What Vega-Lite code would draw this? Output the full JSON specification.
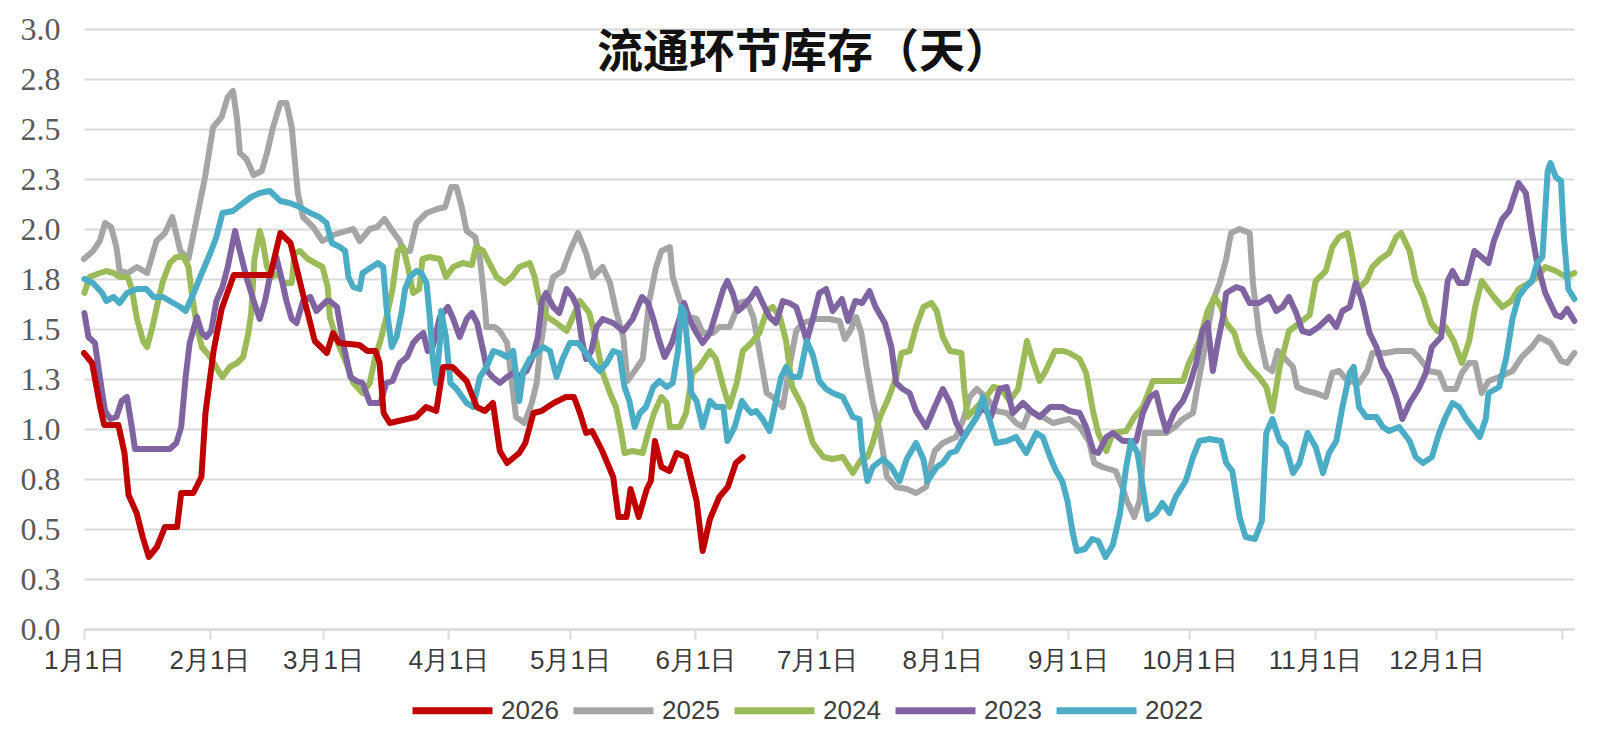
{
  "$schema": "https://vega.github.io/schema/vega-lite/v6.json",
  "width": 1490,
  "height": 600,
  "autosize": {"type": "none"},
  "padding": {"left": 84, "top": 29, "right": 42, "bottom": 105},
  "background": "#ffffff",
  "title": {
    "text": "流通环节库存（天）",
    "font": "Noto Sans CJK SC",
    "fontSize": 46,
    "fontWeight": "bold",
    "color": "#111111",
    "anchor": "middle",
    "frame": "group",
    "offset": -64,
    "dx": -25
  },
  "data": {
    "values": [
      {"year":"2025","day":0,"value":1.85},{"year":"2025","day":2.2,"value":1.89},{"year":"2025","day":3.9,"value":1.94},{"year":"2025","day":5.2,"value":2.03},{"year":"2025","day":6.7,"value":2.01},{"year":"2025","day":8.0,"value":1.91},{"year":"2025","day":8.8,"value":1.79},{"year":"2025","day":10.8,"value":1.78},{"year":"2025","day":13.1,"value":1.81},{"year":"2025","day":15.6,"value":1.78},{"year":"2025","day":17.9,"value":1.94},{"year":"2025","day":20.0,"value":1.98},{"year":"2025","day":21.8,"value":2.06},{"year":"2025","day":23.8,"value":1.89},{"year":"2025","day":25.8,"value":1.85},{"year":"2025","day":27.4,"value":2.01},{"year":"2025","day":29.9,"value":2.26},{"year":"2025","day":31.9,"value":2.51},{"year":"2025","day":34.0,"value":2.56},{"year":"2025","day":35.5,"value":2.66},{"year":"2025","day":36.8,"value":2.69},{"year":"2025","day":37.8,"value":2.55},{"year":"2025","day":38.5,"value":2.38},{"year":"2025","day":40.1,"value":2.35},{"year":"2025","day":41.9,"value":2.27},{"year":"2025","day":43.9,"value":2.29},{"year":"2025","day":45.2,"value":2.38},{"year":"2025","day":46.7,"value":2.51},{"year":"2025","day":48.5,"value":2.63},{"year":"2025","day":50.0,"value":2.63},{"year":"2025","day":51.3,"value":2.51},{"year":"2025","day":52.8,"value":2.18},{"year":"2025","day":54.1,"value":2.06},{"year":"2025","day":56.6,"value":2.01},{"year":"2025","day":58.9,"value":1.94},{"year":"2025","day":61.5,"value":1.97},{"year":"2025","day":64.8,"value":1.99},{"year":"2025","day":66.5,"value":2.0},{"year":"2025","day":68.1,"value":1.94},{"year":"2025","day":70.6,"value":2.0},{"year":"2025","day":72.4,"value":2.01},{"year":"2025","day":74.2,"value":2.05},{"year":"2025","day":76.2,"value":1.99},{"year":"2025","day":78.0,"value":1.94},{"year":"2025","day":78.8,"value":1.89},{"year":"2025","day":80.5,"value":1.89},{"year":"2025","day":82.1,"value":2.03},{"year":"2025","day":84.6,"value":2.08},{"year":"2025","day":87.2,"value":2.1},{"year":"2025","day":89.2,"value":2.11},{"year":"2025","day":90.7,"value":2.21},{"year":"2025","day":92.0,"value":2.21},{"year":"2025","day":93.3,"value":2.11},{"year":"2025","day":94.5,"value":1.99},{"year":"2025","day":96.6,"value":1.96},{"year":"2025","day":97.8,"value":1.85},{"year":"2025","day":98.9,"value":1.64},{"year":"2025","day":99.4,"value":1.51},{"year":"2025","day":101.4,"value":1.51},{"year":"2025","day":102.7,"value":1.49},{"year":"2025","day":104.5,"value":1.43},{"year":"2025","day":105.7,"value":1.23},{"year":"2025","day":106.7,"value":1.06},{"year":"2025","day":108.8,"value":1.03},{"year":"2025","day":110.6,"value":1.13},{"year":"2025","day":111.8,"value":1.23},{"year":"2025","day":112.6,"value":1.39},{"year":"2025","day":114.4,"value":1.64},{"year":"2025","day":115.9,"value":1.76},{"year":"2025","day":118.2,"value":1.79},{"year":"2025","day":120.0,"value":1.89},{"year":"2025","day":122.0,"value":1.98},{"year":"2025","day":124.0,"value":1.88},{"year":"2025","day":125.6,"value":1.76},{"year":"2025","day":128.1,"value":1.81},{"year":"2025","day":129.9,"value":1.73},{"year":"2025","day":131.4,"value":1.59},{"year":"2025","day":133.2,"value":1.46},{"year":"2025","day":134.2,"value":1.24},{"year":"2025","day":136.0,"value":1.29},{"year":"2025","day":138.0,"value":1.35},{"year":"2025","day":139.6,"value":1.64},{"year":"2025","day":141.3,"value":1.81},{"year":"2025","day":142.6,"value":1.89},{"year":"2025","day":144.7,"value":1.91},{"year":"2025","day":145.4,"value":1.76},{"year":"2025","day":147.2,"value":1.64},{"year":"2025","day":149.5,"value":1.56},{"year":"2025","day":151.3,"value":1.55},{"year":"2025","day":152.8,"value":1.48},{"year":"2025","day":155.3,"value":1.48},{"year":"2025","day":156.9,"value":1.51},{"year":"2025","day":159.4,"value":1.51},{"year":"2025","day":161.9,"value":1.63},{"year":"2025","day":163.7,"value":1.64},{"year":"2025","day":165.3,"value":1.56},{"year":"2025","day":166.8,"value":1.39},{"year":"2025","day":168.6,"value":1.18},{"year":"2025","day":170.1,"value":1.16},{"year":"2025","day":172.6,"value":1.11},{"year":"2025","day":174.2,"value":1.31},{"year":"2025","day":175.9,"value":1.49},{"year":"2025","day":177.5,"value":1.53},{"year":"2025","day":180.8,"value":1.55},{"year":"2025","day":184.1,"value":1.55},{"year":"2025","day":186.6,"value":1.54},{"year":"2025","day":187.9,"value":1.45},{"year":"2025","day":189.2,"value":1.49},{"year":"2025","day":190.7,"value":1.56},{"year":"2025","day":192.0,"value":1.48},{"year":"2025","day":193.3,"value":1.31},{"year":"2025","day":194.8,"value":1.14},{"year":"2025","day":196.6,"value":0.98},{"year":"2025","day":198.3,"value":0.76},{"year":"2025","day":200.6,"value":0.71},{"year":"2025","day":203.2,"value":0.7},{"year":"2025","day":205.5,"value":0.68},{"year":"2025","day":208.0,"value":0.71},{"year":"2025","day":209.3,"value":0.83},{"year":"2025","day":210.1,"value":0.89},{"year":"2025","day":212.1,"value":0.93},{"year":"2025","day":215.4,"value":0.96},{"year":"2025","day":217.4,"value":1.06},{"year":"2025","day":218.7,"value":1.16},{"year":"2025","day":220.5,"value":1.2},{"year":"2025","day":222.8,"value":1.16},{"year":"2025","day":225.3,"value":1.09},{"year":"2025","day":227.9,"value":1.08},{"year":"2025","day":230.2,"value":1.03},{"year":"2025","day":231.9,"value":1.01},{"year":"2025","day":233.5,"value":1.09},{"year":"2025","day":236.8,"value":1.06},{"year":"2025","day":239.3,"value":1.03},{"year":"2025","day":243.4,"value":1.05},{"year":"2025","day":245.9,"value":1.01},{"year":"2025","day":248.2,"value":0.94},{"year":"2025","day":249.5,"value":0.83},{"year":"2025","day":251.5,"value":0.81},{"year":"2025","day":254.8,"value":0.79},{"year":"2025","day":256.6,"value":0.7},{"year":"2025","day":257.6,"value":0.64},{"year":"2025","day":259.4,"value":0.56},{"year":"2025","day":260.7,"value":0.64},{"year":"2025","day":262.0,"value":0.98},{"year":"2025","day":267.3,"value":0.98},{"year":"2025","day":269.4,"value":1.01},{"year":"2025","day":271.4,"value":1.05},{"year":"2025","day":273.9,"value":1.08},{"year":"2025","day":274.9,"value":1.2},{"year":"2025","day":276.7,"value":1.39},{"year":"2025","day":278.8,"value":1.64},{"year":"2025","day":280.5,"value":1.73},{"year":"2025","day":282.1,"value":1.85},{"year":"2025","day":283.3,"value":1.98},{"year":"2025","day":285.4,"value":2.0},{"year":"2025","day":287.9,"value":1.98},{"year":"2025","day":288.7,"value":1.73},{"year":"2025","day":290.2,"value":1.48},{"year":"2025","day":292.0,"value":1.31},{"year":"2025","day":293.5,"value":1.29},{"year":"2025","day":294.8,"value":1.39},{"year":"2025","day":296.3,"value":1.36},{"year":"2025","day":298.6,"value":1.31},{"year":"2025","day":299.6,"value":1.21},{"year":"2025","day":301.9,"value":1.19},{"year":"2025","day":304.2,"value":1.18},{"year":"2025","day":306.7,"value":1.16},{"year":"2025","day":308.3,"value":1.28},{"year":"2025","day":310.0,"value":1.29},{"year":"2025","day":312.1,"value":1.24},{"year":"2025","day":314.9,"value":1.23},{"year":"2025","day":316.9,"value":1.29},{"year":"2025","day":318.2,"value":1.38},{"year":"2025","day":321.5,"value":1.38},{"year":"2025","day":324.1,"value":1.39},{"year":"2025","day":328.1,"value":1.39},{"year":"2025","day":329.6,"value":1.36},{"year":"2025","day":332.2,"value":1.29},{"year":"2025","day":334.7,"value":1.28},{"year":"2025","day":336.3,"value":1.2},{"year":"2025","day":338.8,"value":1.2},{"year":"2025","day":340.3,"value":1.28},{"year":"2025","day":342.1,"value":1.33},{"year":"2025","day":343.6,"value":1.33},{"year":"2025","day":345.2,"value":1.18},{"year":"2025","day":346.9,"value":1.24},{"year":"2025","day":349.5,"value":1.26},{"year":"2025","day":352.8,"value":1.29},{"year":"2025","day":355.1,"value":1.36},{"year":"2025","day":357.6,"value":1.41},{"year":"2025","day":359.4,"value":1.46},{"year":"2025","day":362.2,"value":1.43},{"year":"2025","day":364.8,"value":1.34},{"year":"2025","day":366.3,"value":1.33},{"year":"2025","day":368.1,"value":1.38},

      {"year":"2024","day":0.1,"value":1.68},{"year":"2024","day":1.4,"value":1.76},{"year":"2024","day":3.9,"value":1.78},{"year":"2024","day":5.5,"value":1.79},{"year":"2024","day":7.3,"value":1.78},{"year":"2024","day":8.8,"value":1.76},{"year":"2024","day":10.8,"value":1.76},{"year":"2024","day":11.8,"value":1.7},{"year":"2024","day":13.1,"value":1.55},{"year":"2024","day":14.6,"value":1.44},{"year":"2024","day":15.6,"value":1.41},{"year":"2024","day":16.9,"value":1.51},{"year":"2024","day":18.2,"value":1.63},{"year":"2024","day":19.5,"value":1.74},{"year":"2024","day":21.2,"value":1.83},{"year":"2024","day":22.8,"value":1.86},{"year":"2024","day":24.6,"value":1.86},{"year":"2024","day":25.8,"value":1.81},{"year":"2024","day":26.6,"value":1.68},{"year":"2024","day":27.9,"value":1.51},{"year":"2024","day":29.1,"value":1.41},{"year":"2024","day":31.2,"value":1.36},{"year":"2024","day":33.2,"value":1.29},{"year":"2024","day":34.2,"value":1.26},{"year":"2024","day":36.0,"value":1.31},{"year":"2024","day":37.8,"value":1.33},{"year":"2024","day":39.3,"value":1.36},{"year":"2024","day":40.6,"value":1.48},{"year":"2024","day":41.3,"value":1.58},{"year":"2024","day":42.1,"value":1.85},{"year":"2024","day":43.4,"value":1.99},{"year":"2024","day":44.1,"value":1.94},{"year":"2024","day":45.2,"value":1.81},{"year":"2024","day":46.4,"value":1.76},{"year":"2024","day":48.0,"value":1.78},{"year":"2024","day":49.2,"value":1.73},{"year":"2024","day":51.3,"value":1.73},{"year":"2024","day":52.0,"value":1.88},{"year":"2024","day":53.3,"value":1.89},{"year":"2024","day":55.3,"value":1.85},{"year":"2024","day":57.1,"value":1.83},{"year":"2024","day":58.9,"value":1.81},{"year":"2024","day":60.2,"value":1.71},{"year":"2024","day":60.7,"value":1.56},{"year":"2024","day":62.5,"value":1.44},{"year":"2024","day":64.8,"value":1.33},{"year":"2024","day":66.5,"value":1.23},{"year":"2024","day":68.8,"value":1.18},{"year":"2024","day":70.6,"value":1.23},{"year":"2024","day":71.9,"value":1.36},{"year":"2024","day":73.2,"value":1.44},{"year":"2024","day":74.7,"value":1.56},{"year":"2024","day":76.2,"value":1.7},{"year":"2024","day":77.5,"value":1.89},{"year":"2024","day":78.8,"value":1.91},{"year":"2024","day":80.0,"value":1.81},{"year":"2024","day":81.3,"value":1.68},{"year":"2024","day":82.8,"value":1.7},{"year":"2024","day":83.6,"value":1.85},{"year":"2024","day":85.4,"value":1.86},{"year":"2024","day":87.9,"value":1.85},{"year":"2024","day":89.4,"value":1.76},{"year":"2024","day":91.2,"value":1.81},{"year":"2024","day":93.5,"value":1.83},{"year":"2024","day":95.8,"value":1.82},{"year":"2024","day":96.8,"value":1.91},{"year":"2024","day":98.6,"value":1.89},{"year":"2024","day":100.1,"value":1.83},{"year":"2024","day":101.9,"value":1.76},{"year":"2024","day":103.9,"value":1.73},{"year":"2024","day":105.7,"value":1.76},{"year":"2024","day":107.5,"value":1.81},{"year":"2024","day":110.1,"value":1.83},{"year":"2024","day":111.3,"value":1.76},{"year":"2024","day":112.6,"value":1.63},{"year":"2024","day":114.4,"value":1.56},{"year":"2024","day":116.7,"value":1.53},{"year":"2024","day":119.2,"value":1.49},{"year":"2024","day":122.5,"value":1.64},{"year":"2024","day":124.8,"value":1.58},{"year":"2024","day":126.6,"value":1.43},{"year":"2024","day":128.1,"value":1.28},{"year":"2024","day":129.9,"value":1.18},{"year":"2024","day":131.4,"value":1.11},{"year":"2024","day":132.7,"value":0.98},{"year":"2024","day":133.5,"value":0.88},{"year":"2024","day":135.5,"value":0.89},{"year":"2024","day":138.0,"value":0.88},{"year":"2024","day":139.3,"value":0.98},{"year":"2024","day":140.8,"value":1.08},{"year":"2024","day":142.6,"value":1.16},{"year":"2024","day":143.9,"value":1.13},{"year":"2024","day":144.7,"value":1.01},{"year":"2024","day":147.2,"value":1.01},{"year":"2024","day":148.7,"value":1.08},{"year":"2024","day":150.3,"value":1.28},{"year":"2024","day":152.0,"value":1.31},{"year":"2024","day":154.6,"value":1.39},{"year":"2024","day":156.1,"value":1.35},{"year":"2024","day":157.9,"value":1.21},{"year":"2024","day":159.4,"value":1.11},{"year":"2024","day":161.2,"value":1.23},{"year":"2024","day":162.7,"value":1.39},{"year":"2024","day":164.8,"value":1.43},{"year":"2024","day":166.8,"value":1.48},{"year":"2024","day":168.6,"value":1.59},{"year":"2024","day":170.1,"value":1.61},{"year":"2024","day":171.9,"value":1.56},{"year":"2024","day":173.4,"value":1.44},{"year":"2024","day":174.9,"value":1.21},{"year":"2024","day":177.5,"value":1.11},{"year":"2024","day":180.0,"value":0.93},{"year":"2024","day":182.6,"value":0.86},{"year":"2024","day":184.9,"value":0.85},{"year":"2024","day":187.4,"value":0.86},{"year":"2024","day":189.9,"value":0.78},{"year":"2024","day":192.0,"value":0.85},{"year":"2024","day":193.5,"value":0.86},{"year":"2024","day":194.8,"value":0.93},{"year":"2024","day":196.6,"value":1.06},{"year":"2024","day":198.8,"value":1.16},{"year":"2024","day":200.6,"value":1.26},{"year":"2024","day":201.9,"value":1.38},{"year":"2024","day":203.9,"value":1.39},{"year":"2024","day":205.5,"value":1.51},{"year":"2024","day":207.3,"value":1.61},{"year":"2024","day":209.3,"value":1.63},{"year":"2024","day":210.6,"value":1.59},{"year":"2024","day":212.1,"value":1.46},{"year":"2024","day":213.9,"value":1.39},{"year":"2024","day":216.7,"value":1.38},{"year":"2024","day":217.4,"value":1.2},{"year":"2024","day":218.2,"value":1.06},{"year":"2024","day":220.5,"value":1.11},{"year":"2024","day":222.8,"value":1.16},{"year":"2024","day":224.6,"value":1.21},{"year":"2024","day":226.6,"value":1.2},{"year":"2024","day":228.6,"value":1.14},{"year":"2024","day":230.7,"value":1.2},{"year":"2024","day":231.9,"value":1.33},{"year":"2024","day":232.9,"value":1.44},{"year":"2024","day":234.2,"value":1.35},{"year":"2024","day":236.0,"value":1.24},{"year":"2024","day":237.5,"value":1.29},{"year":"2024","day":239.8,"value":1.39},{"year":"2024","day":241.8,"value":1.39},{"year":"2024","day":243.4,"value":1.38},{"year":"2024","day":245.9,"value":1.35},{"year":"2024","day":247.5,"value":1.28},{"year":"2024","day":249.3,"value":1.08},{"year":"2024","day":250.5,"value":0.98},{"year":"2024","day":252.5,"value":0.89},{"year":"2024","day":254.1,"value":0.98},{"year":"2024","day":257.4,"value":0.99},{"year":"2024","day":259.4,"value":1.06},{"year":"2024","day":261.5,"value":1.11},{"year":"2024","day":264.0,"value":1.24},{"year":"2024","day":271.4,"value":1.24},{"year":"2024","day":272.9,"value":1.33},{"year":"2024","day":275.5,"value":1.44},{"year":"2024","day":277.5,"value":1.59},{"year":"2024","day":279.3,"value":1.66},{"year":"2024","day":280.8,"value":1.61},{"year":"2024","day":282.1,"value":1.53},{"year":"2024","day":284.1,"value":1.48},{"year":"2024","day":285.6,"value":1.38},{"year":"2024","day":287.9,"value":1.31},{"year":"2024","day":290.2,"value":1.26},{"year":"2024","day":292.0,"value":1.21},{"year":"2024","day":293.5,"value":1.09},{"year":"2024","day":295.3,"value":1.31},{"year":"2024","day":297.6,"value":1.49},{"year":"2024","day":300.2,"value":1.53},{"year":"2024","day":302.7,"value":1.57},{"year":"2024","day":304.2,"value":1.74},{"year":"2024","day":306.7,"value":1.79},{"year":"2024","day":308.3,"value":1.91},{"year":"2024","day":310.0,"value":1.96},{"year":"2024","day":312.1,"value":1.98},{"year":"2024","day":313.3,"value":1.86},{"year":"2024","day":314.6,"value":1.7},{"year":"2024","day":316.7,"value":1.74},{"year":"2024","day":318.2,"value":1.81},{"year":"2024","day":320.2,"value":1.85},{"year":"2024","day":322.3,"value":1.88},{"year":"2024","day":324.1,"value":1.96},{"year":"2024","day":325.3,"value":1.98},{"year":"2024","day":327.4,"value":1.89},{"year":"2024","day":328.9,"value":1.74},{"year":"2024","day":330.7,"value":1.66},{"year":"2024","day":332.7,"value":1.53},{"year":"2024","day":334.3,"value":1.49},{"year":"2024","day":336.3,"value":1.51},{"year":"2024","day":338.3,"value":1.44},{"year":"2024","day":340.3,"value":1.33},{"year":"2024","day":342.1,"value":1.44},{"year":"2024","day":343.6,"value":1.61},{"year":"2024","day":345.2,"value":1.74},{"year":"2024","day":346.7,"value":1.7},{"year":"2024","day":348.2,"value":1.66},{"year":"2024","day":350.3,"value":1.61},{"year":"2024","day":352.5,"value":1.64},{"year":"2024","day":354.3,"value":1.7},{"year":"2024","day":356.9,"value":1.73},{"year":"2024","day":358.9,"value":1.76},{"year":"2024","day":360.9,"value":1.81},{"year":"2024","day":363.5,"value":1.79},{"year":"2024","day":366.0,"value":1.76},{"year":"2024","day":368.1,"value":1.78},

      {"year":"2023","day":0.1,"value":1.58},{"year":"2023","day":1.1,"value":1.46},{"year":"2023","day":2.7,"value":1.43},{"year":"2023","day":3.9,"value":1.26},{"year":"2023","day":5.2,"value":1.09},{"year":"2023","day":6.5,"value":1.05},{"year":"2023","day":8.0,"value":1.06},{"year":"2023","day":9.3,"value":1.14},{"year":"2023","day":10.6,"value":1.16},{"year":"2023","day":11.8,"value":1.01},{"year":"2023","day":12.6,"value":0.9},{"year":"2023","day":16.4,"value":0.9},{"year":"2023","day":21.2,"value":0.9},{"year":"2023","day":22.8,"value":0.93},{"year":"2023","day":24.0,"value":1.01},{"year":"2023","day":25.1,"value":1.26},{"year":"2023","day":26.1,"value":1.43},{"year":"2023","day":27.9,"value":1.56},{"year":"2023","day":29.1,"value":1.48},{"year":"2023","day":30.2,"value":1.46},{"year":"2023","day":31.4,"value":1.49},{"year":"2023","day":32.7,"value":1.64},{"year":"2023","day":34.2,"value":1.71},{"year":"2023","day":35.5,"value":1.81},{"year":"2023","day":37.3,"value":1.99},{"year":"2023","day":38.5,"value":1.89},{"year":"2023","day":40.1,"value":1.76},{"year":"2023","day":41.9,"value":1.64},{"year":"2023","day":43.4,"value":1.55},{"year":"2023","day":44.7,"value":1.64},{"year":"2023","day":45.9,"value":1.76},{"year":"2023","day":47.5,"value":1.86},{"year":"2023","day":48.7,"value":1.76},{"year":"2023","day":50.0,"value":1.64},{"year":"2023","day":51.3,"value":1.55},{"year":"2023","day":52.5,"value":1.53},{"year":"2023","day":54.1,"value":1.64},{"year":"2023","day":55.9,"value":1.66},{"year":"2023","day":57.4,"value":1.59},{"year":"2023","day":59.9,"value":1.64},{"year":"2023","day":60.7,"value":1.64},{"year":"2023","day":62.5,"value":1.61},{"year":"2023","day":64.0,"value":1.43},{"year":"2023","day":65.8,"value":1.26},{"year":"2023","day":67.3,"value":1.24},{"year":"2023","day":68.8,"value":1.23},{"year":"2023","day":70.6,"value":1.13},{"year":"2023","day":73.2,"value":1.13},{"year":"2023","day":74.7,"value":1.23},{"year":"2023","day":76.2,"value":1.24},{"year":"2023","day":78.0,"value":1.33},{"year":"2023","day":79.8,"value":1.36},{"year":"2023","day":81.3,"value":1.43},{"year":"2023","day":82.6,"value":1.46},{"year":"2023","day":83.8,"value":1.48},{"year":"2023","day":84.9,"value":1.39},{"year":"2023","day":86.1,"value":1.41},{"year":"2023","day":87.9,"value":1.56},{"year":"2023","day":89.9,"value":1.61},{"year":"2023","day":91.2,"value":1.55},{"year":"2023","day":92.8,"value":1.46},{"year":"2023","day":94.5,"value":1.55},{"year":"2023","day":95.8,"value":1.58},{"year":"2023","day":97.1,"value":1.53},{"year":"2023","day":98.6,"value":1.39},{"year":"2023","day":99.6,"value":1.29},{"year":"2023","day":100.9,"value":1.26},{"year":"2023","day":102.7,"value":1.23},{"year":"2023","day":104.5,"value":1.26},{"year":"2023","day":106.0,"value":1.28},{"year":"2023","day":107.0,"value":1.26},{"year":"2023","day":109.3,"value":1.29},{"year":"2023","day":110.8,"value":1.36},{"year":"2023","day":112.1,"value":1.46},{"year":"2023","day":113.1,"value":1.64},{"year":"2023","day":114.1,"value":1.68},{"year":"2023","day":115.9,"value":1.61},{"year":"2023","day":117.4,"value":1.58},{"year":"2023","day":119.2,"value":1.7},{"year":"2023","day":120.7,"value":1.66},{"year":"2023","day":121.8,"value":1.61},{"year":"2023","day":123.0,"value":1.44},{"year":"2023","day":124.0,"value":1.35},{"year":"2023","day":125.3,"value":1.39},{"year":"2023","day":126.6,"value":1.51},{"year":"2023","day":128.1,"value":1.55},{"year":"2023","day":130.7,"value":1.53},{"year":"2023","day":133.2,"value":1.49},{"year":"2023","day":135.5,"value":1.55},{"year":"2023","day":137.8,"value":1.66},{"year":"2023","day":139.3,"value":1.63},{"year":"2023","day":140.6,"value":1.55},{"year":"2023","day":142.1,"value":1.44},{"year":"2023","day":143.4,"value":1.36},{"year":"2023","day":145.2,"value":1.43},{"year":"2023","day":147.2,"value":1.56},{"year":"2023","day":148.2,"value":1.63},{"year":"2023","day":149.5,"value":1.55},{"year":"2023","day":151.3,"value":1.48},{"year":"2023","day":152.8,"value":1.43},{"year":"2023","day":154.6,"value":1.48},{"year":"2023","day":156.1,"value":1.58},{"year":"2023","day":157.9,"value":1.7},{"year":"2023","day":158.9,"value":1.74},{"year":"2023","day":160.2,"value":1.68},{"year":"2023","day":161.5,"value":1.59},{"year":"2023","day":162.7,"value":1.61},{"year":"2023","day":164.8,"value":1.66},{"year":"2023","day":166.0,"value":1.7},{"year":"2023","day":167.6,"value":1.63},{"year":"2023","day":169.3,"value":1.56},{"year":"2023","day":170.9,"value":1.53},{"year":"2023","day":172.6,"value":1.64},{"year":"2023","day":174.2,"value":1.63},{"year":"2023","day":175.9,"value":1.61},{"year":"2023","day":177.5,"value":1.51},{"year":"2023","day":178.5,"value":1.44},{"year":"2023","day":180.0,"value":1.55},{"year":"2023","day":181.6,"value":1.68},{"year":"2023","day":183.3,"value":1.7},{"year":"2023","day":184.9,"value":1.59},{"year":"2023","day":187.2,"value":1.65},{"year":"2023","day":188.7,"value":1.54},{"year":"2023","day":190.5,"value":1.64},{"year":"2023","day":192.2,"value":1.63},{"year":"2023","day":194.0,"value":1.69},{"year":"2023","day":195.5,"value":1.61},{"year":"2023","day":197.8,"value":1.53},{"year":"2023","day":199.4,"value":1.41},{"year":"2023","day":200.6,"value":1.23},{"year":"2023","day":202.2,"value":1.2},{"year":"2023","day":203.9,"value":1.18},{"year":"2023","day":205.5,"value":1.09},{"year":"2023","day":208.0,"value":1.01},{"year":"2023","day":210.1,"value":1.11},{"year":"2023","day":212.1,"value":1.2},{"year":"2023","day":213.9,"value":1.13},{"year":"2023","day":215.4,"value":1.03},{"year":"2023","day":217.4,"value":0.96},{"year":"2023","day":219.5,"value":1.03},{"year":"2023","day":222.0,"value":1.11},{"year":"2023","day":224.0,"value":1.06},{"year":"2023","day":226.1,"value":1.2},{"year":"2023","day":227.9,"value":1.21},{"year":"2023","day":229.4,"value":1.08},{"year":"2023","day":231.9,"value":1.13},{"year":"2023","day":233.9,"value":1.09},{"year":"2023","day":236.0,"value":1.06},{"year":"2023","day":238.6,"value":1.11},{"year":"2023","day":241.6,"value":1.11},{"year":"2023","day":243.4,"value":1.09},{"year":"2023","day":245.9,"value":1.08},{"year":"2023","day":247.5,"value":1.01},{"year":"2023","day":249.3,"value":0.89},{"year":"2023","day":250.5,"value":0.88},{"year":"2023","day":252.5,"value":0.96},{"year":"2023","day":254.1,"value":0.98},{"year":"2023","day":256.6,"value":0.94},{"year":"2023","day":259.9,"value":0.94},{"year":"2023","day":261.5,"value":1.08},{"year":"2023","day":263.3,"value":1.16},{"year":"2023","day":264.8,"value":1.18},{"year":"2023","day":266.0,"value":1.08},{"year":"2023","day":267.3,"value":0.99},{"year":"2023","day":269.4,"value":1.09},{"year":"2023","day":271.4,"value":1.14},{"year":"2023","day":272.9,"value":1.21},{"year":"2023","day":274.7,"value":1.33},{"year":"2023","day":276.2,"value":1.49},{"year":"2023","day":277.5,"value":1.53},{"year":"2023","day":278.8,"value":1.29},{"year":"2023","day":280.0,"value":1.43},{"year":"2023","day":281.3,"value":1.56},{"year":"2023","day":282.1,"value":1.68},{"year":"2023","day":284.6,"value":1.71},{"year":"2023","day":286.1,"value":1.7},{"year":"2023","day":287.9,"value":1.63},{"year":"2023","day":290.2,"value":1.63},{"year":"2023","day":292.7,"value":1.66},{"year":"2023","day":294.5,"value":1.59},{"year":"2023","day":296.0,"value":1.61},{"year":"2023","day":297.6,"value":1.66},{"year":"2023","day":299.4,"value":1.58},{"year":"2023","day":300.9,"value":1.49},{"year":"2023","day":302.7,"value":1.48},{"year":"2023","day":304.9,"value":1.51},{"year":"2023","day":307.5,"value":1.56},{"year":"2023","day":309.3,"value":1.51},{"year":"2023","day":310.8,"value":1.59},{"year":"2023","day":312.6,"value":1.61},{"year":"2023","day":314.1,"value":1.73},{"year":"2023","day":315.7,"value":1.64},{"year":"2023","day":317.5,"value":1.48},{"year":"2023","day":319.2,"value":1.41},{"year":"2023","day":320.8,"value":1.31},{"year":"2023","day":322.3,"value":1.26},{"year":"2023","day":324.1,"value":1.16},{"year":"2023","day":325.6,"value":1.05},{"year":"2023","day":327.4,"value":1.13},{"year":"2023","day":329.6,"value":1.2},{"year":"2023","day":331.4,"value":1.28},{"year":"2023","day":332.9,"value":1.41},{"year":"2023","day":335.2,"value":1.46},{"year":"2023","day":336.8,"value":1.74},{"year":"2023","day":338.0,"value":1.79},{"year":"2023","day":339.6,"value":1.73},{"year":"2023","day":341.4,"value":1.73},{"year":"2023","day":343.4,"value":1.89},{"year":"2023","day":345.2,"value":1.86},{"year":"2023","day":346.9,"value":1.83},{"year":"2023","day":348.2,"value":1.94},{"year":"2023","day":350.3,"value":2.05},{"year":"2023","day":352.0,"value":2.09},{"year":"2023","day":354.3,"value":2.23},{"year":"2023","day":356.1,"value":2.18},{"year":"2023","day":357.6,"value":1.98},{"year":"2023","day":358.9,"value":1.83},{"year":"2023","day":360.9,"value":1.68},{"year":"2023","day":363.5,"value":1.57},{"year":"2023","day":364.8,"value":1.56},{"year":"2023","day":366.3,"value":1.6},{"year":"2023","day":368.1,"value":1.54},

      {"year":"2022","day":0.1,"value":1.75},{"year":"2022","day":2.2,"value":1.73},{"year":"2022","day":4.5,"value":1.68},{"year":"2022","day":5.5,"value":1.64},{"year":"2022","day":7.3,"value":1.66},{"year":"2022","day":8.8,"value":1.63},{"year":"2022","day":10.6,"value":1.68},{"year":"2022","day":13.1,"value":1.7},{"year":"2022","day":15.4,"value":1.7},{"year":"2022","day":17.2,"value":1.66},{"year":"2022","day":19.5,"value":1.66},{"year":"2022","day":21.2,"value":1.64},{"year":"2022","day":23.8,"value":1.61},{"year":"2022","day":25.1,"value":1.59},{"year":"2022","day":27.1,"value":1.68},{"year":"2022","day":29.1,"value":1.78},{"year":"2022","day":31.2,"value":1.88},{"year":"2022","day":32.7,"value":1.96},{"year":"2022","day":34.2,"value":2.08},{"year":"2022","day":36.8,"value":2.09},{"year":"2022","day":39.3,"value":2.13},{"year":"2022","day":41.3,"value":2.16},{"year":"2022","day":43.4,"value":2.18},{"year":"2022","day":45.9,"value":2.19},{"year":"2022","day":48.5,"value":2.14},{"year":"2022","day":50.8,"value":2.13},{"year":"2022","day":53.3,"value":2.11},{"year":"2022","day":55.9,"value":2.08},{"year":"2022","day":58.1,"value":2.06},{"year":"2022","day":59.9,"value":2.03},{"year":"2022","day":61.2,"value":1.93},{"year":"2022","day":63.2,"value":1.91},{"year":"2022","day":64.5,"value":1.89},{"year":"2022","day":65.3,"value":1.76},{"year":"2022","day":66.5,"value":1.71},{"year":"2022","day":68.1,"value":1.7},{"year":"2022","day":68.8,"value":1.78},{"year":"2022","day":71.1,"value":1.81},{"year":"2022","day":72.6,"value":1.83},{"year":"2022","day":73.9,"value":1.81},{"year":"2022","day":74.7,"value":1.61},{"year":"2022","day":76.0,"value":1.41},{"year":"2022","day":77.2,"value":1.46},{"year":"2022","day":78.5,"value":1.59},{"year":"2022","day":79.3,"value":1.7},{"year":"2022","day":80.5,"value":1.76},{"year":"2022","day":82.1,"value":1.79},{"year":"2022","day":83.3,"value":1.78},{"year":"2022","day":84.6,"value":1.73},{"year":"2022","day":85.4,"value":1.56},{"year":"2022","day":86.1,"value":1.36},{"year":"2022","day":86.9,"value":1.23},{"year":"2022","day":87.9,"value":1.43},{"year":"2022","day":88.2,"value":1.59},{"year":"2022","day":89.4,"value":1.46},{"year":"2022","day":90.5,"value":1.23},{"year":"2022","day":92.0,"value":1.2},{"year":"2022","day":94.5,"value":1.13},{"year":"2022","day":96.1,"value":1.11},{"year":"2022","day":97.8,"value":1.26},{"year":"2022","day":99.4,"value":1.31},{"year":"2022","day":101.1,"value":1.39},{"year":"2022","day":102.7,"value":1.38},{"year":"2022","day":104.5,"value":1.36},{"year":"2022","day":106.0,"value":1.39},{"year":"2022","day":107.5,"value":1.14},{"year":"2022","day":108.5,"value":1.29},{"year":"2022","day":110.1,"value":1.35},{"year":"2022","day":111.8,"value":1.38},{"year":"2022","day":113.4,"value":1.41},{"year":"2022","day":115.1,"value":1.39},{"year":"2022","day":116.7,"value":1.26},{"year":"2022","day":118.2,"value":1.35},{"year":"2022","day":120.0,"value":1.43},{"year":"2022","day":122.0,"value":1.43},{"year":"2022","day":124.0,"value":1.38},{"year":"2022","day":125.6,"value":1.33},{"year":"2022","day":127.4,"value":1.29},{"year":"2022","day":129.1,"value":1.33},{"year":"2022","day":130.7,"value":1.39},{"year":"2022","day":132.2,"value":1.38},{"year":"2022","day":133.5,"value":1.21},{"year":"2022","day":134.7,"value":1.14},{"year":"2022","day":136.0,"value":1.01},{"year":"2022","day":137.3,"value":1.08},{"year":"2022","day":138.8,"value":1.11},{"year":"2022","day":140.6,"value":1.21},{"year":"2022","day":142.1,"value":1.24},{"year":"2022","day":143.9,"value":1.21},{"year":"2022","day":145.4,"value":1.23},{"year":"2022","day":146.7,"value":1.39},{"year":"2022","day":147.5,"value":1.61},{"year":"2022","day":148.2,"value":1.59},{"year":"2022","day":149.2,"value":1.39},{"year":"2022","day":150.0,"value":1.18},{"year":"2022","day":151.3,"value":1.14},{"year":"2022","day":152.8,"value":1.01},{"year":"2022","day":154.6,"value":1.14},{"year":"2022","day":156.1,"value":1.11},{"year":"2022","day":157.9,"value":1.11},{"year":"2022","day":158.9,"value":0.94},{"year":"2022","day":160.7,"value":1.01},{"year":"2022","day":162.5,"value":1.14},{"year":"2022","day":163.5,"value":1.11},{"year":"2022","day":164.8,"value":1.08},{"year":"2022","day":166.0,"value":1.09},{"year":"2022","day":167.6,"value":1.05},{"year":"2022","day":169.3,"value":0.99},{"year":"2022","day":170.9,"value":1.14},{"year":"2022","day":172.2,"value":1.26},{"year":"2022","day":173.4,"value":1.31},{"year":"2022","day":174.9,"value":1.26},{"year":"2022","day":176.7,"value":1.26},{"year":"2022","day":178.5,"value":1.44},{"year":"2022","day":180.0,"value":1.37},{"year":"2022","day":181.6,"value":1.24},{"year":"2022","day":183.3,"value":1.2},{"year":"2022","day":184.9,"value":1.18},{"year":"2022","day":187.4,"value":1.16},{"year":"2022","day":189.9,"value":1.06},{"year":"2022","day":191.5,"value":1.05},{"year":"2022","day":192.2,"value":0.89},{"year":"2022","day":193.5,"value":0.74},{"year":"2022","day":194.8,"value":0.81},{"year":"2022","day":197.3,"value":0.85},{"year":"2022","day":199.4,"value":0.81},{"year":"2022","day":201.4,"value":0.74},{"year":"2022","day":203.2,"value":0.85},{"year":"2022","day":205.5,"value":0.93},{"year":"2022","day":207.3,"value":0.85},{"year":"2022","day":208.3,"value":0.74},{"year":"2022","day":210.6,"value":0.81},{"year":"2022","day":212.1,"value":0.83},{"year":"2022","day":213.9,"value":0.88},{"year":"2022","day":215.4,"value":0.89},{"year":"2022","day":217.9,"value":0.98},{"year":"2022","day":220.5,"value":1.06},{"year":"2022","day":222.0,"value":1.16},{"year":"2022","day":223.6,"value":1.05},{"year":"2022","day":225.3,"value":0.93},{"year":"2022","day":227.9,"value":0.94},{"year":"2022","day":230.2,"value":0.96},{"year":"2022","day":232.7,"value":0.88},{"year":"2022","day":235.2,"value":0.98},{"year":"2022","day":236.8,"value":0.96},{"year":"2022","day":238.6,"value":0.86},{"year":"2022","day":240.1,"value":0.79},{"year":"2022","day":241.6,"value":0.74},{"year":"2022","day":242.9,"value":0.64},{"year":"2022","day":244.2,"value":0.48},{"year":"2022","day":245.2,"value":0.39},{"year":"2022","day":247.2,"value":0.4},{"year":"2022","day":249.0,"value":0.45},{"year":"2022","day":250.5,"value":0.44},{"year":"2022","day":252.3,"value":0.36},{"year":"2022","day":254.1,"value":0.42},{"year":"2022","day":255.8,"value":0.57},{"year":"2022","day":257.4,"value":0.81},{"year":"2022","day":258.6,"value":0.94},{"year":"2022","day":260.2,"value":0.88},{"year":"2022","day":262.0,"value":0.64},{"year":"2022","day":262.7,"value":0.55},{"year":"2022","day":264.8,"value":0.58},{"year":"2022","day":266.3,"value":0.63},{"year":"2022","day":268.1,"value":0.58},{"year":"2022","day":269.6,"value":0.66},{"year":"2022","day":272.1,"value":0.74},{"year":"2022","day":273.9,"value":0.86},{"year":"2022","day":275.5,"value":0.94},{"year":"2022","day":278.0,"value":0.95},{"year":"2022","day":280.8,"value":0.94},{"year":"2022","day":282.1,"value":0.83},{"year":"2022","day":283.6,"value":0.79},{"year":"2022","day":285.4,"value":0.56},{"year":"2022","day":286.9,"value":0.46},{"year":"2022","day":289.2,"value":0.45},{"year":"2022","day":290.9,"value":0.54},{"year":"2022","day":292.0,"value":0.98},{"year":"2022","day":293.5,"value":1.05},{"year":"2022","day":295.3,"value":0.94},{"year":"2022","day":296.8,"value":0.91},{"year":"2022","day":298.6,"value":0.78},{"year":"2022","day":300.2,"value":0.83},{"year":"2022","day":302.2,"value":0.98},{"year":"2022","day":304.2,"value":0.91},{"year":"2022","day":306.0,"value":0.78},{"year":"2022","day":307.5,"value":0.88},{"year":"2022","day":309.3,"value":0.94},{"year":"2022","day":310.8,"value":1.11},{"year":"2022","day":312.6,"value":1.28},{"year":"2022","day":313.6,"value":1.31},{"year":"2022","day":314.9,"value":1.11},{"year":"2022","day":316.7,"value":1.06},{"year":"2022","day":319.2,"value":1.06},{"year":"2022","day":320.8,"value":1.01},{"year":"2022","day":322.3,"value":0.99},{"year":"2022","day":324.8,"value":1.01},{"year":"2022","day":327.4,"value":0.94},{"year":"2022","day":328.9,"value":0.86},{"year":"2022","day":330.7,"value":0.83},{"year":"2022","day":332.9,"value":0.86},{"year":"2022","day":334.7,"value":0.98},{"year":"2022","day":336.3,"value":1.06},{"year":"2022","day":338.0,"value":1.13},{"year":"2022","day":339.6,"value":1.11},{"year":"2022","day":341.4,"value":1.05},{"year":"2022","day":342.9,"value":1.01},{"year":"2022","day":344.7,"value":0.96},{"year":"2022","day":346.2,"value":1.05},{"year":"2022","day":346.9,"value":1.18},{"year":"2022","day":349.5,"value":1.21},{"year":"2022","day":351.3,"value":1.36},{"year":"2022","day":352.8,"value":1.55},{"year":"2022","day":354.3,"value":1.66},{"year":"2022","day":356.1,"value":1.71},{"year":"2022","day":357.6,"value":1.74},{"year":"2022","day":358.9,"value":1.83},{"year":"2022","day":360.2,"value":1.86},{"year":"2022","day":361.5,"value":2.29},{"year":"2022","day":362.2,"value":2.33},{"year":"2022","day":363.5,"value":2.26},{"year":"2022","day":364.8,"value":2.24},{"year":"2022","day":365.5,"value":1.96},{"year":"2022","day":366.6,"value":1.7},{"year":"2022","day":368.1,"value":1.65},

      {"year":"2026","day":0,"value":1.38},{"year":"2026","day":2,"value":1.33},{"year":"2026","day":4,"value":1.11},{"year":"2026","day":5,"value":1.02},{"year":"2026","day":8.5,"value":1.02},{"year":"2026","day":10,"value":0.88},{"year":"2026","day":11,"value":0.67},{"year":"2026","day":13,"value":0.58},{"year":"2026","day":14.5,"value":0.46},{"year":"2026","day":16,"value":0.36},{"year":"2026","day":18,"value":0.41},{"year":"2026","day":20,"value":0.51},{"year":"2026","day":23,"value":0.51},{"year":"2026","day":24,"value":0.68},{"year":"2026","day":27,"value":0.68},{"year":"2026","day":29,"value":0.76},{"year":"2026","day":30,"value":1.08},{"year":"2026","day":32,"value":1.39},{"year":"2026","day":34,"value":1.6},{"year":"2026","day":37,"value":1.77},{"year":"2026","day":46,"value":1.77},{"year":"2026","day":48.5,"value":1.98},{"year":"2026","day":51,"value":1.93},{"year":"2026","day":54,"value":1.68},{"year":"2026","day":57,"value":1.44},{"year":"2026","day":60,"value":1.38},{"year":"2026","day":61.5,"value":1.48},{"year":"2026","day":63,"value":1.43},{"year":"2026","day":68,"value":1.42},{"year":"2026","day":70,"value":1.39},{"year":"2026","day":72,"value":1.39},{"year":"2026","day":73,"value":1.33},{"year":"2026","day":74,"value":1.08},{"year":"2026","day":75.5,"value":1.03},{"year":"2026","day":82,"value":1.06},{"year":"2026","day":84.5,"value":1.11},{"year":"2026","day":87,"value":1.09},{"year":"2026","day":88.7,"value":1.31},{"year":"2026","day":91,"value":1.31},{"year":"2026","day":94.5,"value":1.24},{"year":"2026","day":97,"value":1.11},{"year":"2026","day":99,"value":1.09},{"year":"2026","day":101,"value":1.13},{"year":"2026","day":102.7,"value":0.89},{"year":"2026","day":104.5,"value":0.83},{"year":"2026","day":107.5,"value":0.88},{"year":"2026","day":109,"value":0.93},{"year":"2026","day":111,"value":1.08},{"year":"2026","day":113,"value":1.09},{"year":"2026","day":116,"value":1.13},{"year":"2026","day":119,"value":1.16},{"year":"2026","day":121,"value":1.16},{"year":"2026","day":122.5,"value":1.08},{"year":"2026","day":124,"value":0.98},{"year":"2026","day":125.5,"value":0.99},{"year":"2026","day":128,"value":0.89},{"year":"2026","day":130.7,"value":0.76},{"year":"2026","day":132,"value":0.56},{"year":"2026","day":134,"value":0.56},{"year":"2026","day":135,"value":0.7},{"year":"2026","day":137,"value":0.56},{"year":"2026","day":139,"value":0.7},{"year":"2026","day":140,"value":0.74},{"year":"2026","day":141,"value":0.94},{"year":"2026","day":142.6,"value":0.81},{"year":"2026","day":144.6,"value":0.79},{"year":"2026","day":146.4,"value":0.88},{"year":"2026","day":148.7,"value":0.86},{"year":"2026","day":151.3,"value":0.64},{"year":"2026","day":152.8,"value":0.39},{"year":"2026","day":154.6,"value":0.55},{"year":"2026","day":156.9,"value":0.66},{"year":"2026","day":159,"value":0.71},{"year":"2026","day":161,"value":0.83},{"year":"2026","day":162.7,"value":0.86}
    ]
  },
  "mark": {"type": "line", "strokeWidth": 6, "strokeJoin": "round", "strokeCap": "round"},
  "encoding": {
    "x": {
      "field": "day",
      "type": "quantitative",
      "scale": {"domain": [0, 368], "nice": false, "zero": false},
      "axis": {
        "title": null,
        "values": [0, 31, 59, 90, 120, 151, 181, 212, 243, 273, 304, 334, 365],
        "labelExpr": "{'0':'1月1日','31':'2月1日','59':'3月1日','90':'4月1日','120':'5月1日','151':'6月1日','181':'7月1日','212':'8月1日','243':'9月1日','273':'10月1日','304':'11月1日','334':'12月1日'}[datum.value] || ''",
        "grid": false,
        "domain": true,
        "domainColor": "#D9D9D9",
        "domainWidth": 2,
        "ticks": true,
        "tickColor": "#D9D9D9",
        "tickWidth": 2,
        "tickSize": 10,
        "labelFont": "Liberation Sans",
        "labelFontSize": 26,
        "labelColor": "#3A3A3A",
        "labelPadding": 8,
        "labelBaseline": "top",
        "labelFlush": false,
        "labelOverlap": false
      }
    },
    "y": {
      "field": "value",
      "type": "quantitative",
      "scale": {"domain": [0, 3], "nice": false},
      "axis": {
        "title": null,
        "values": [0, 0.25, 0.5, 0.75, 1, 1.25, 1.5, 1.75, 2, 2.25, 2.5, 2.75, 3],
        "format": ".1f",
        "domain": false,
        "ticks": false,
        "grid": true,
        "gridColor": "#D9D9D9",
        "gridWidth": 2,
        "labelFont": "Liberation Serif",
        "labelFontSize": 32,
        "labelColor": "#595959",
        "labelPadding": 24,
        "labelOverlap": false
      }
    },
    "color": {
      "field": "year",
      "type": "nominal",
      "scale": {
        "domain": ["2026", "2025", "2024", "2023", "2022"],
        "range": ["#C00000", "#A5A5A5", "#9BBB59", "#8064A2", "#4BACC6"]
      },
      "legend": {
        "title": null,
        "orient": "none",
        "direction": "horizontal",
        "legendX": 325,
        "legendY": 638,
        "symbolType": "stroke",
        "symbolSize": 6400,
        "symbolStrokeWidth": 7,
        "labelFont": "Liberation Sans",
        "labelFontSize": 26,
        "labelColor": "#404040",
        "labelOffset": 5,
        "columnPadding": 0
      }
    }
  },
  "config": {
    "view": {"stroke": null}
  }
}
